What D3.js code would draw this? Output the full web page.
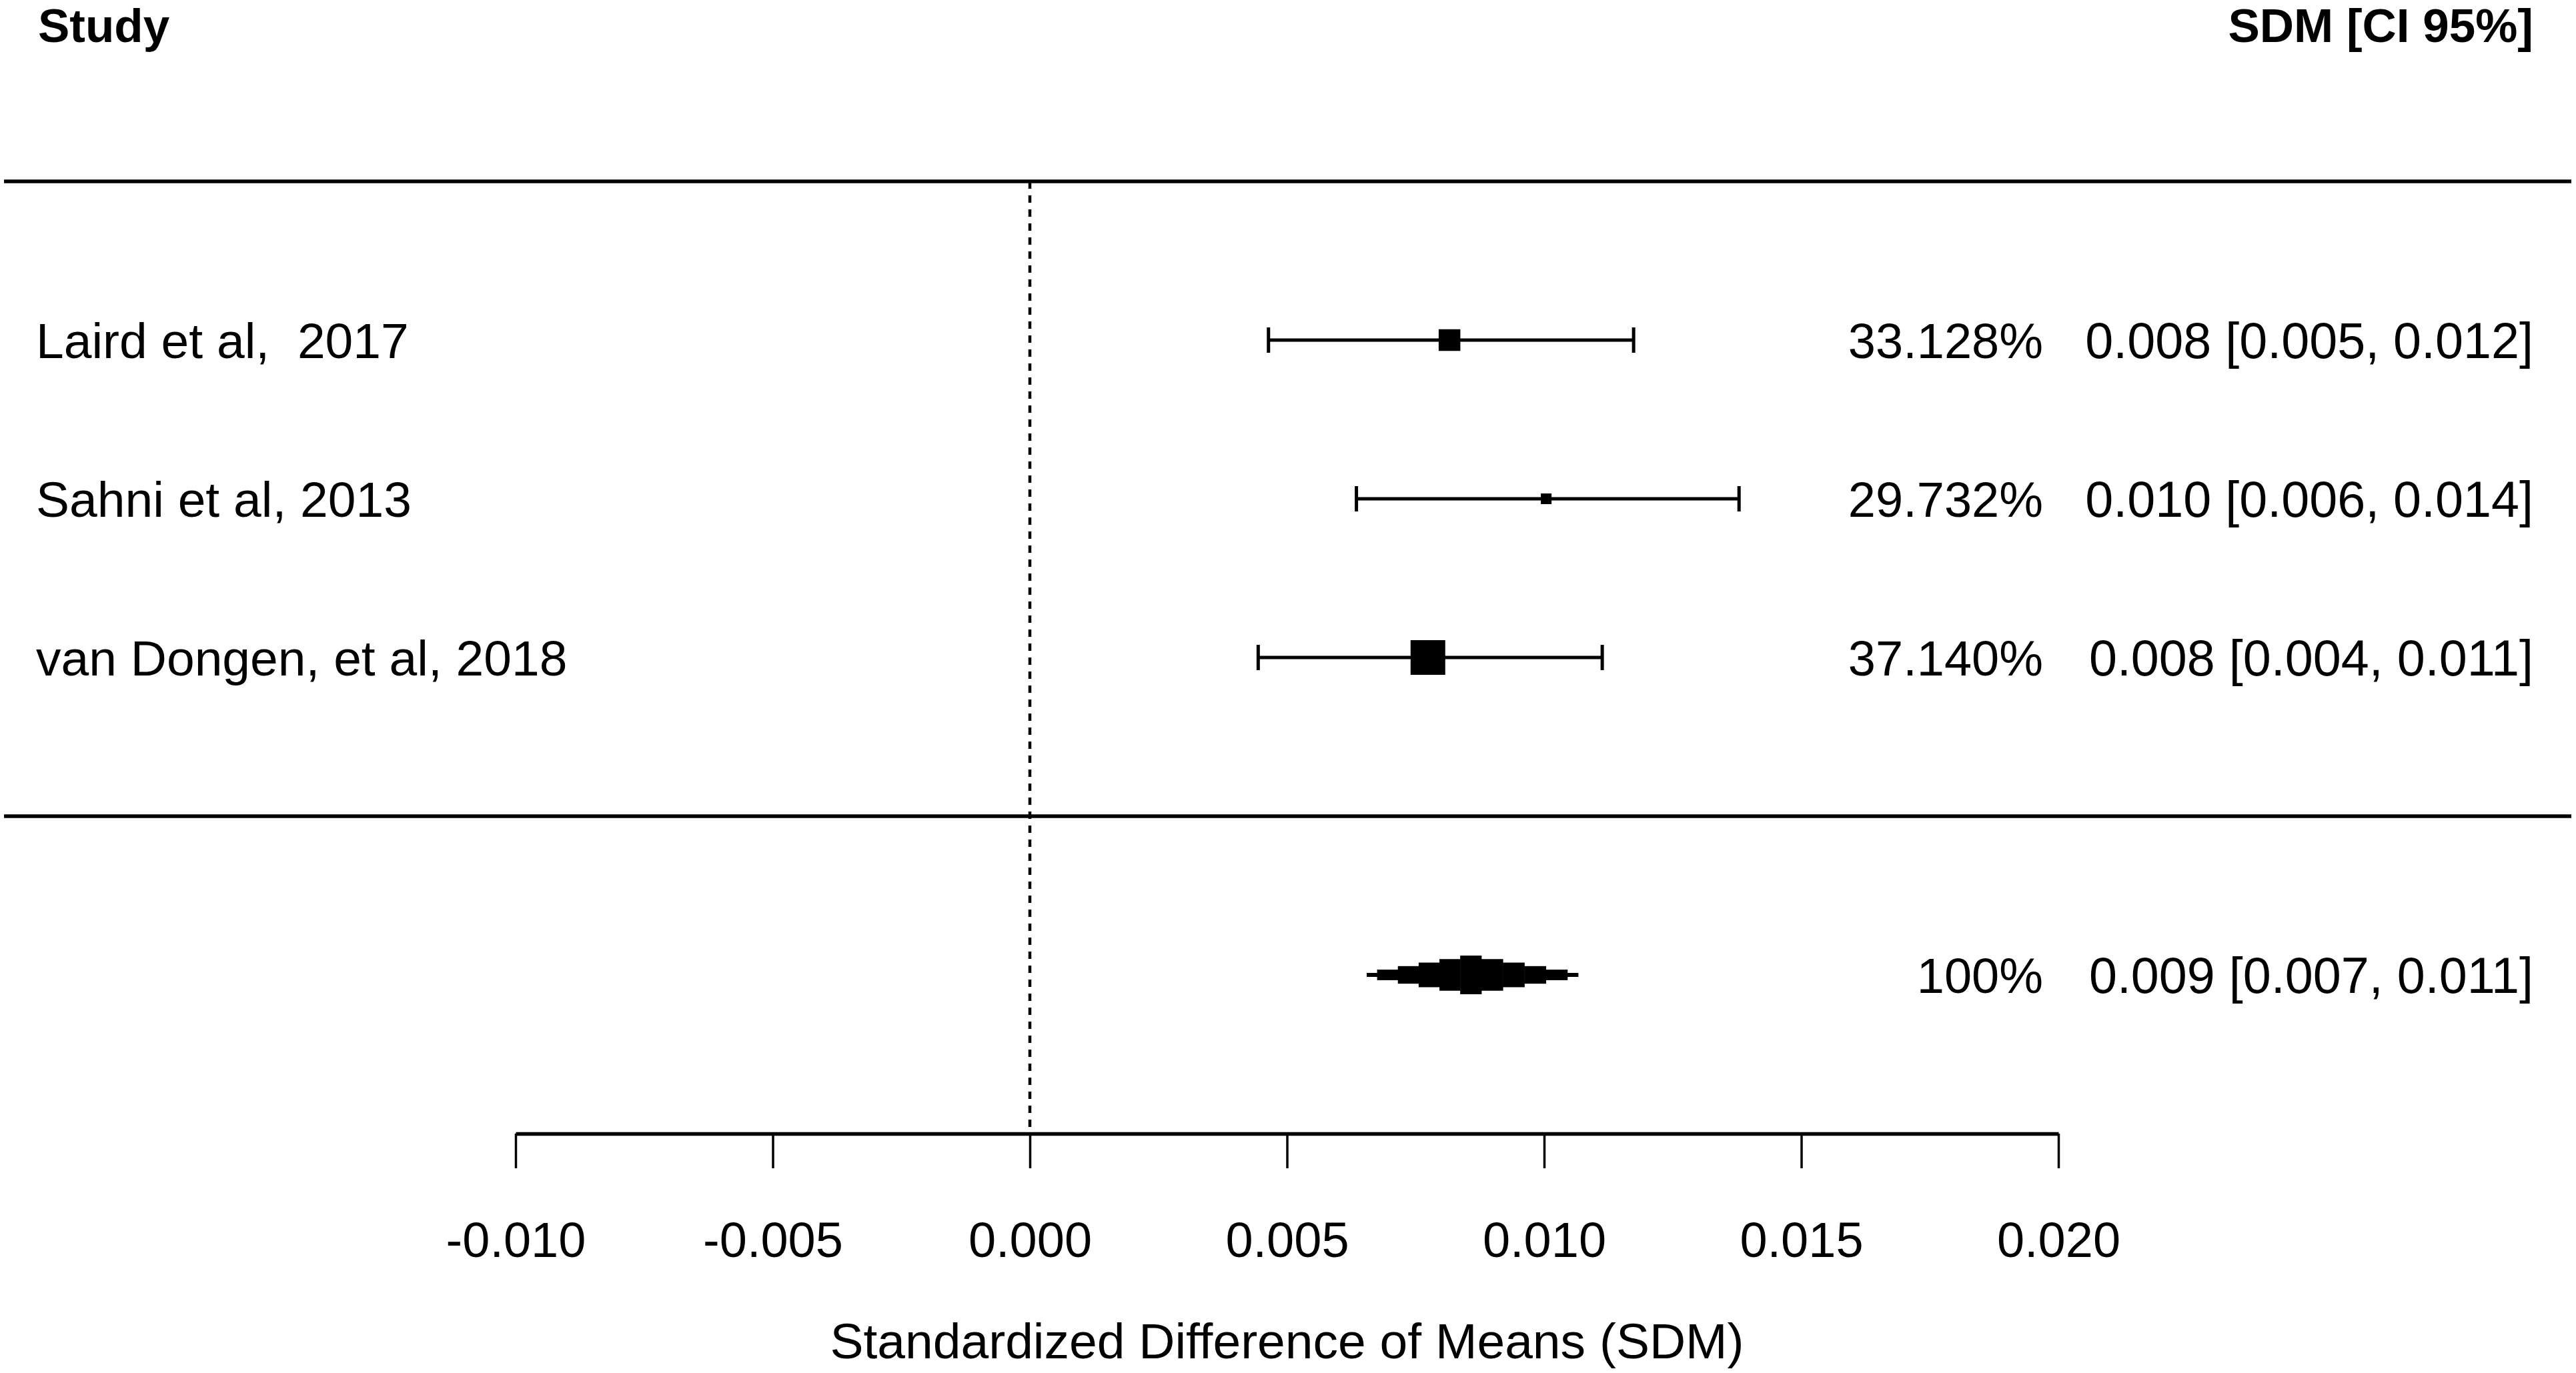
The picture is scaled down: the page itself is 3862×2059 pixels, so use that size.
<!DOCTYPE html>
<html>
<head>
<meta charset="utf-8">
<script src="https://cdn.jsdelivr.net/npm/d3@7"></script>
<style>
body { margin: 0; background: #fff; }
text { font-family: "Liberation Sans", Arial, sans-serif; fill: #000; white-space: pre; }
</style>
</head>
<body>
<script>
// study data
var studies = ["Laird et al,  2017", "Sahni et al, 2013", "van Dongen, et al, 2018"];
var est = [0.00816, 0.01004, 0.00774];
var lower = [0.00464, 0.00635, 0.00444];
var upper = [0.01174, 0.01379, 0.01113];
var weights = [33.128, 29.732, 37.140];

// pooled estimate
var summaryEst = 0.00857;
var summaryLower = 0.00655;
var summaryUpper = 0.01066;
var summaryWeight = "100%";

var tickValues = [-0.010, -0.005, 0.000, 0.005, 0.010, 0.015, 0.020];
var headers = ["Study", "SDM [CI 95%]"];
var axisTitle = "Standardized Difference of Means (SDM)";

var width = 3862;
var height = 2059;
var fs = 74;

var svg = d3.select("body")
			.append("svg")
			.attr("width", width)
			.attr("height", height);

var x = d3.scaleLinear().domain([-0.01, 0.02]).range([773, 3086]);
// rows like metafor: axis at 0, summary at 1, studies at 5..3, header at 7
var y = d3.scaleLinear().domain([0, 7]).range([1700, 34]);
var studyRows = [5, 4, 3];
var boxSize = d3.scaleLinear().domain(d3.extent(weights)).range([16, 52]);

var fmt = function(v) { return v.toFixed(3); };
var cap = fs * 0.36;	/* half cap height, to centre text on a row */

// header
svg.append("text").attr("x", 57).attr("y", 63)
	.attr("xml:space", "preserve")
	.style("font-size", "71px").style("font-weight", "bold").text(headers[0]);
svg.append("text").attr("x", 3798).attr("y", 63).attr("text-anchor", "end")
	.style("font-size", "71px").style("font-weight", "bold").text(headers[1]);

// horizontal separators
[6, 2].forEach(function(r) {
	svg.append("line")
		.attr("x1", 6).attr("x2", 3855)
		.attr("y1", y(r)).attr("y2", y(r))
		.attr("stroke", "#000").attr("stroke-width", 5.5);
});

// reference line at zero
svg.append("line")
	.attr("x1", x(0)).attr("x2", x(0))
	.attr("y1", y(6)).attr("y2", y(0))
	.attr("stroke", "#000").attr("stroke-width", 4.5)
	.attr("stroke-dasharray", "11,10");

var rows = svg.selectAll(".study")
	.data(studies)
	.enter().append("g")
	.attr("class", "study")
	.attr("transform", function(d, i) { return "translate(0," + y(studyRows[i]) + ")"; });

rows.append("line")
	.attr("x1", function(d, i) { return x(lower[i]); })
	.attr("x2", function(d, i) { return x(upper[i]); })
	.attr("stroke", "#000").attr("stroke-width", 5);

// whisker caps
rows.each(function(d, i) {
	var g = d3.select(this);
	[lower[i], upper[i]].forEach(function(v) {
		g.append("line")
			.attr("x1", x(v)).attr("x2", x(v))
			.attr("y1", -19).attr("y2", 19)
			.attr("stroke", "#000").attr("stroke-width", 5);
	});
});

rows.append("rect")
	.attr("x", function(d, i) { return x(est[i]) - boxSize(weights[i]) / 2; })
	.attr("y", function(d, i) { return -boxSize(weights[i]) / 2; })
	.attr("width", function(d, i) { return boxSize(weights[i]); })
	.attr("height", function(d, i) { return boxSize(weights[i]); })
	.attr("fill", "#000");

rows.append("text")
	.attr("x", 54).attr("y", cap)
	.attr("xml:space", "preserve")
	.style("font-size", "75px")
	.text(function(d) { return d; });

rows.append("text")
	.attr("x", 3063).attr("y", cap).attr("text-anchor", "end")
	.style("font-size", fs + "px")
	.text(function(d, i) { return weights[i].toFixed(3) + "%"; });

rows.append("text")
	.attr("x", 3798).attr("y", cap).attr("text-anchor", "end")
	.style("font-size", "75.5px")
	.text(function(d, i) { return fmt(est[i]) + " [" + fmt(lower[i]) + ", " + fmt(upper[i]) + "]"; });

// summary diamond, drawn as stepped blocks
var sy = y(1);
var H = 58;
var cx = x(summaryEst);
var sl = (cx - x(summaryLower)) / 5;
var sr = (x(summaryUpper) - cx) / 5;
var steps = d3.range(-5, 6).map(function(k) {
	var s = k < 0 ? sl : sr;
	var a = Math.abs(k);
	var inner = a === 0 ? -0.5 : a - 0.5;
	var outer = a === 5 ? 5 : a + 0.5;
	var x0, x1;
	if (k === 0) { x0 = cx - sl / 2; x1 = cx + sr / 2; }
	else if (k < 0) { x0 = cx - outer * s; x1 = cx - inner * s; }
	else { x0 = cx + inner * s; x1 = cx + outer * s; }
	return { x0: x0, x1: x1, h: Math.max(6, H * (1 - a / 5.5)) };
});

svg.selectAll(".step")
	.data(steps)
	.enter().append("rect")
	.attr("class", "step")
	.attr("x", function(d) { return d.x0; })
	.attr("width", function(d) { return d.x1 - d.x0 + 0.5; })
	.attr("y", function(d) { return sy - d.h / 2; })
	.attr("height", function(d) { return d.h; })
	.attr("fill", "#000");

svg.append("text")
	.attr("x", 3063).attr("y", sy + cap).attr("text-anchor", "end")
	.style("font-size", fs + "px").text(summaryWeight);
svg.append("text")
	.attr("x", 3798).attr("y", sy + cap).attr("text-anchor", "end")
	.style("font-size", "75.5px")
	.text(fmt(summaryEst) + " [" + fmt(summaryLower) + ", " + fmt(summaryUpper) + "]");

// x axis
var axis = svg.append("g")
	.attr("transform", "translate(0," + y(0) + ")")
	.call(d3.axisBottom(x).tickValues(tickValues).tickFormat(fmt)
		.tickSize(52).tickSizeOuter(0).tickPadding(80));

axis.select(".domain").attr("stroke", "#000").attr("stroke-width", 5.5);
axis.selectAll(".tick line").attr("stroke", "#000").attr("stroke-width", 3.5);
axis.selectAll(".tick text")
	.style("font-size", fs + "px")
	.style("font-family", "'Liberation Sans', Arial, sans-serif")
	.attr("fill", "#000");

svg.append("text")
	.attr("x", (x(-0.01) + x(0.02)) / 2).attr("y", 2037)
	.attr("text-anchor", "middle")
	.style("font-size", "75px")
	.text(axisTitle);
</script>
</body>
</html>
